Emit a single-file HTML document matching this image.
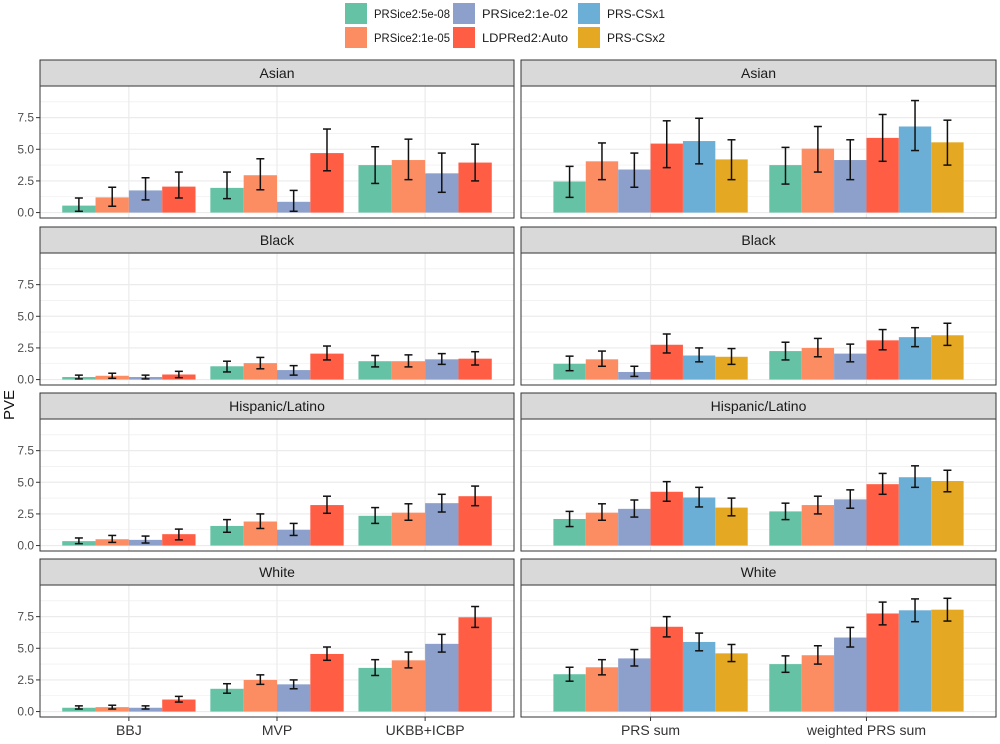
<!DOCTYPE html>
<html><head><meta charset="utf-8"><style>
body{margin:0;background:#fff;width:1000px;height:739px;overflow:hidden;font-family:"Liberation Sans",sans-serif}
svg text{font-family:"Liberation Sans",sans-serif}
</style></head><body>
<svg id="chart" width="1000" height="739" xmlns="http://www.w3.org/2000/svg"></svg>
<script>
const methods=["PRSice2:5e-08","PRSice2:1e-05","PRSice2:1e-02","LDPRed2:Auto","PRS-CSx1","PRS-CSx2"];
const colors=["#66C2A5","#FC8D62","#8DA0CB","#FF5E45","#6BAED6","#E5A823"];
const groups=["Asian","Black","Hispanic/Latino","White"];
const leftCats=["BBJ","MVP","UKBB+ICBP"];
const rightCats=["PRS sum","weighted PRS sum"];
const yTicks=[0,2.5,5,7.5];
const yTickLabels=["0.0","2.5","5.0","7.5"];
const leftVals=[
 [[[0.55,0.1,1.15],[1.2,0.5,2.0],[1.75,1.0,2.75],[2.05,1.15,3.2]],
  [[1.95,1.1,3.2],[2.95,1.8,4.25],[0.85,0.1,1.75],[4.7,3.3,6.6]],
  [[3.75,2.3,5.2],[4.15,2.6,5.8],[3.1,1.6,4.7],[3.95,2.5,5.4]]],
 [[[0.2,0.05,0.35],[0.3,0.1,0.5],[0.2,0.05,0.35],[0.4,0.15,0.65]],
  [[1.05,0.6,1.45],[1.3,0.85,1.75],[0.75,0.35,1.1],[2.05,1.55,2.65]],
  [[1.45,1.0,1.9],[1.45,1.0,1.95],[1.6,1.2,2.05],[1.65,1.15,2.2]]],
 [[[0.35,0.15,0.6],[0.5,0.25,0.8],[0.45,0.2,0.75],[0.9,0.45,1.3]],
  [[1.55,1.05,2.05],[1.9,1.35,2.5],[1.25,0.8,1.75],[3.2,2.55,3.9]],
  [[2.35,1.75,3.0],[2.6,2.0,3.3],[3.35,2.65,4.05],[3.9,3.15,4.7]]],
 [[[0.3,0.2,0.45],[0.35,0.2,0.5],[0.3,0.2,0.45],[0.95,0.75,1.2]],
  [[1.8,1.45,2.2],[2.5,2.15,2.9],[2.15,1.8,2.5],[4.55,4.05,5.1]],
  [[3.45,2.85,4.1],[4.05,3.45,4.7],[5.35,4.7,6.1],[7.45,6.65,8.3]]]
];
const rightVals=[
 [[[2.45,1.2,3.65],[4.05,2.6,5.5],[3.4,2.0,4.7],[5.45,3.55,7.25],[5.65,3.85,7.45],[4.2,2.6,5.75]],
  [[3.75,2.25,5.15],[5.05,3.2,6.8],[4.15,2.6,5.75],[5.9,4.05,7.75],[6.8,4.9,8.85],[5.55,3.75,7.3]]],
 [[[1.25,0.7,1.85],[1.6,1.05,2.25],[0.6,0.25,1.05],[2.75,2.1,3.6],[1.9,1.4,2.5],[1.8,1.2,2.45]],
  [[2.25,1.55,2.95],[2.5,1.8,3.25],[2.05,1.4,2.8],[3.1,2.35,3.95],[3.35,2.6,4.1],[3.5,2.7,4.45]]],
 [[[2.1,1.5,2.7],[2.6,2.0,3.3],[2.9,2.25,3.6],[4.25,3.5,5.05],[3.8,3.05,4.6],[3.0,2.35,3.75]],
  [[2.7,2.05,3.35],[3.2,2.5,3.9],[3.65,2.95,4.4],[4.85,4.05,5.7],[5.4,4.6,6.3],[5.1,4.25,5.95]]],
 [[[2.95,2.4,3.5],[3.5,2.9,4.1],[4.2,3.6,4.9],[6.7,5.9,7.5],[5.5,4.8,6.2],[4.6,3.95,5.3]],
  [[3.75,3.1,4.4],[4.45,3.75,5.2],[5.85,5.1,6.65],[7.75,6.85,8.65],[8.0,7.1,8.9],[8.05,7.15,8.95]]]
];
const NS="http://www.w3.org/2000/svg";
const svg=document.getElementById("chart");
function mk(tag,attrs,parent){const e=document.createElementNS(NS,tag);for(const k in attrs)e.setAttribute(k,attrs[k]);(parent||svg).appendChild(e);return e;}
const yMin=-0.43,yMax=10.0;
const rowTop=[60,227,393,559],stripH=26,plotH=132;
const panels=[{x0:40,x1:514,cats:leftCats,vals:leftVals,nm:4},{x0:521,x1:996,cats:rightCats,vals:rightVals,nm:6}];
methods.forEach((m,i)=>{
  const col=Math.floor(i/2),row=i%2;
  const lx=[345,453,578][col],ly=3+row*24;
  const g=mk("g",{});
  
  
  mk("rect",{x:lx,y:ly,width:22,height:21,fill:colors[i]},g);
  const t=mk("text",{x:lx+29,y:ly+15,"font-size":12,fill:"#1a1a1a",textLength:col==2?58:(col==1?86:76),lengthAdjust:"spacingAndGlyphs"},g);t.textContent=m;
});
groups.forEach((gname,r)=>{
  const top=rowTop[r],pTop=top+stripH,pBot=pTop+plotH;
  const y=v=>pBot-(v-yMin)/(yMax-yMin)*plotH;
  panels.forEach((p,pi)=>{
    const W=p.x1-p.x0,n=p.cats.length,unit=W/(n+0.2);
    const xc=k=>p.x0+(k+0.6)*unit;
    const pg=mk("g",{});
    
    
    const st=mk("rect",{x:p.x0,y:top,width:W,height:stripH,fill:"#D9D9D9",stroke:"#333","stroke-width":1},pg);
    
    const tt=mk("text",{x:(p.x0+p.x1)/2,y:top+18,"text-anchor":"middle","font-size":14,fill:"#1a1a1a"},pg);tt.textContent=gname;
    mk("rect",{x:p.x0,y:pTop,width:W,height:plotH,fill:"#fff"},pg);
    for(let v=0;v<=10;v+=1.25){const yy=y(v);if(yy<pTop)continue;mk("line",{x1:p.x0,x2:p.x1,y1:yy,y2:yy,stroke:"#EBEBEB","stroke-width":v%2.5==0?1.2:0.6},pg);}
    p.cats.forEach((c,k)=>mk("line",{x1:xc(k),x2:xc(k),y1:pTop,y2:pBot,stroke:"#EBEBEB","stroke-width":1.2},pg));
    const bw=0.9*unit/p.nm;
    p.cats.forEach((c,k)=>{
      p.vals[r][k].forEach((d,m)=>{
        const bx=xc(k)-0.45*unit+m*bw;
        const b=mk("rect",{x:bx,y:y(d[0]),width:bw,height:y(0)-y(d[0]),fill:colors[m]},pg);
        
        
        const cx=bx+bw/2;
        mk("line",{x1:cx,x2:cx,y1:y(d[1]),y2:y(d[2]),stroke:"#111","stroke-width":1.5},pg);
        mk("line",{x1:cx-4,x2:cx+4,y1:y(d[1]),y2:y(d[1]),stroke:"#111","stroke-width":1.5},pg);
        mk("line",{x1:cx-4,x2:cx+4,y1:y(d[2]),y2:y(d[2]),stroke:"#111","stroke-width":1.5},pg);
      });
      if(r===3){const xl=mk("text",{x:xc(k),y:735,"text-anchor":"middle","font-size":14,fill:"#333"});xl.textContent=c;
        
        mk("line",{x1:xc(k),x2:xc(k),y1:pBot,y2:pBot+4,stroke:"#333"});}
    });
    mk("rect",{x:p.x0,y:pTop,width:W,height:plotH,fill:"none",stroke:"#333","stroke-width":1},pg);
    if(pi===0){yTicks.forEach((v,i)=>{const yy=y(v);mk("line",{x1:p.x0-4,x2:p.x0,y1:yy,y2:yy,stroke:"#333"});
      const tl=mk("text",{x:p.x0-6,y:yy+4,"text-anchor":"end","font-size":12,fill:"#4d4d4d"});tl.textContent=yTickLabels[i];
      });}
  });
});
const yl=mk("text",{x:14,y:405,"text-anchor":"middle","font-size":15,fill:"#111",transform:"rotate(-90 14 405)"});
yl.textContent="PVE";


</script>
</body></html>
